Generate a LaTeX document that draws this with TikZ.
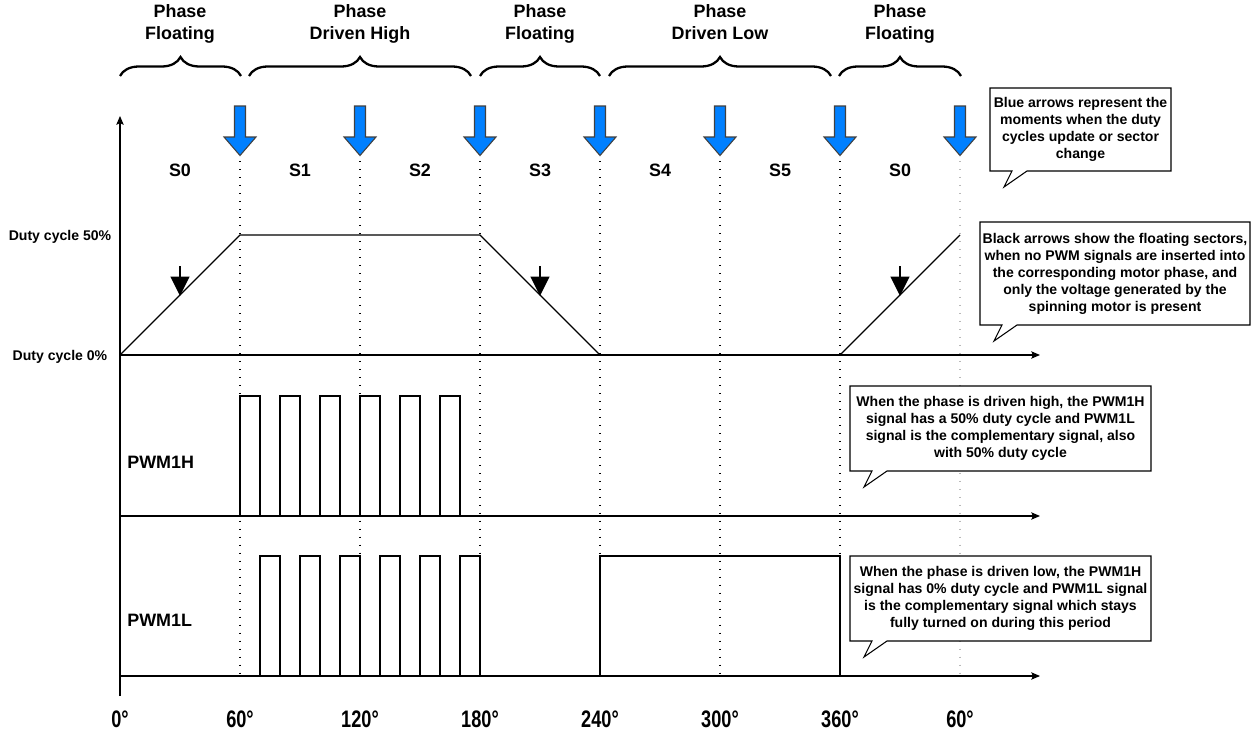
\documentclass[tikz,border=0pt]{standalone}
\usepackage{fontspec}
\setmainfont{Liberation Sans}
\newfontfamily\narrowfont[FakeStretch=0.76]{Liberation Sans}
\usetikzlibrary{arrows.meta, decorations.pathreplacing}
\newcommand{\headfont}{\fontsize{10.2pt}{12.5pt}\selectfont\bfseries}
\newcommand{\notefont}{\fontsize{8pt}{9.7pt}\selectfont\bfseries}
\newcommand{\anglefont}{\narrowfont\fontsize{13.6pt}{16pt}\selectfont\bfseries}
\tikzset{axis/.style = {-{Stealth[length = 5pt, width = 4.2pt, inset = 1pt]}, line width = 0.6pt}}
\tikzset{wave/.style = {line width = 0.65pt}}
\tikzset{sectorline/.style = {line width = 0.8pt, dash pattern = on 0.8pt off 3.75pt}}
\tikzset{update/.style = {fill = {rgb,255:red,0;green,128;blue,255}, draw = black!75, line width = 0.6pt}}
\tikzset{floatmark/.style = {-{Triangle[length = 11pt, width = 10.5pt]}, line width = 1.5pt}}
\tikzset{bracket/.style = {decorate, decoration = {brace, amplitude = 0.38cm}, line width = 1.3pt}}
\tikzset{note/.style = {draw, fill = white, line width = 0.6pt}}
\tikzset{notetext/.style = {align = center, inner sep = 0pt, font = \notefont}}
\tikzset{headtext/.style = {align = center, inner sep = 0pt, font = \headfont}}
\tikzset{smalltext/.style = {inner sep = 0pt, font = \notefont}}

\begin{document}
\begin{tikzpicture}[x = 0.02cm, y = -0.02cm]
	\fill[white] (0, 0) rectangle (1251, 737);
	\useasboundingbox (0, 0) rectangle (1251, 737);

	% phases
	\node[headtext, anchor = north] (phaseA) at (180, 4) {Phase\\Floating};
	\node[headtext, anchor = north] (phaseB) at (360, 4) {Phase\\Driven High};
	\node[headtext, anchor = north] (phaseC) at (540, 4) {Phase\\Floating};
	\node[headtext, anchor = north] (phaseD) at (720, 4) {Phase\\Driven Low};
	\node[headtext, anchor = north] (phaseE) at (900, 4) {Phase\\Floating};

	\draw[bracket] (120, 76) -- (241, 76);
	\draw[bracket] (249, 76) -- (471, 76);
	\draw[bracket] (480, 76) -- (600, 76);
	\draw[bracket] (609, 76) -- (831, 76);
	\draw[bracket] (839, 76) -- (961, 76);

	% sector borders
	\foreach \x in {240, 360, ..., 840}
		\draw[sectorline] (\x, 161) -- (\x, 676);
	\draw[sectorline, gray!55] (960, 161) -- (960, 676);

	\foreach \x in {240, 360, ..., 960}
		\draw[update] (\x-5.5, 106) -- (\x+5.5, 106) -- (\x+5.5, 137) -- (\x+16, 137)
			-- (\x, 155.5) -- (\x-16, 137) -- (\x-5.5, 137) -- cycle;

	\foreach \x/\s [count = \i] in {180/S0, 300/S1, 420/S2, 540/S3, 660/S4, 780/S5, 900/S0}
		\node[headtext] (sec\i) at (\x, 170) {\s};

	% axes
	\draw[axis] (120, 696) -- (120, 116);
	\draw[axis] (120, 355) -- (1040, 355);
	\draw[axis] (120, 516) -- (1040, 516);
	\draw[axis] (120, 676) -- (1040, 676);

	% duty cycle
	\draw[wave] (120, 355) -- (240, 235) -- (480, 235) -- (600, 355) -- (840, 355) -- (960, 235);
	\foreach \x in {180, 540, 900}
		\draw[floatmark] (\x, 266) -- (\x, 296);

	\node[smalltext] (full) at (60, 237) {Duty cycle 50\%};
	\node[smalltext] (zero) at (60, 357) {Duty cycle 0\%};

	% pwm signals
	\foreach \x in {240, 280, ..., 440}
		\draw[wave] (\x, 516) -- (\x, 396) -- (\x+20, 396) -- (\x+20, 516);
	\foreach \x in {260, 300, ..., 460}
		\draw[wave] (\x, 676) -- (\x, 556) -- (\x+20, 556) -- (\x+20, 676);
	\draw[wave] (600, 676) -- (600, 556) -- (840, 556) -- (840, 676);

	\node[headtext, anchor = west] (pwmh) at (127, 462) {PWM1H};
	\node[headtext, anchor = west] (pwml) at (127, 620) {PWM1L};

	\foreach \x/\d [count = \i] in {120/0, 240/60, 360/120, 480/180, 600/240, 720/300, 840/360, 960/60}
		\node[inner sep = 0pt, font = \anglefont] (deg\i) at (\x, 719) {\d°};

	% notes
	\draw[note] (990, 88) -- (1171, 88) -- (1171, 171) -- (1027, 171) -- (1004, 187) -- (1012, 171) -- (990, 171) -- cycle;
	\node[notetext] (blue) at (1080.5, 129.5) {Blue arrows represent the\\moments when the duty\\cycles update or sector\\change};

	\draw[note] (980, 222) -- (1250, 222) -- (1250, 325) -- (1017, 325) -- (994, 341) -- (1002, 325) -- (980, 325) -- cycle;
	\node[notetext] (black) at (1115, 273.5) {Black arrows show the floating sectors,\\when no PWM signals are inserted into\\the corresponding motor phase, and\\only the voltage generated by the\\spinning motor is present};

	\draw[note] (850, 386) -- (1151, 386) -- (1151, 471) -- (887, 471) -- (864, 487) -- (872, 471) -- (850, 471) -- cycle;
	\node[notetext] (high) at (1000.5, 428.5) {When the phase is driven high, the PWM1H\\signal has a 50\% duty cycle and PWM1L\\signal is the complementary signal, also\\with 50\% duty cycle};

	\draw[note] (850, 556) -- (1151, 556) -- (1151, 641) -- (887, 641) -- (864, 657) -- (872, 641) -- (850, 641) -- cycle;
	\node[notetext] (low) at (1000.5, 598.5) {When the phase is driven low, the PWM1H\\signal has 0\% duty cycle and PWM1L signal\\is the complementary signal which stays\\fully turned on during this period};
\end{tikzpicture}
\end{document}
